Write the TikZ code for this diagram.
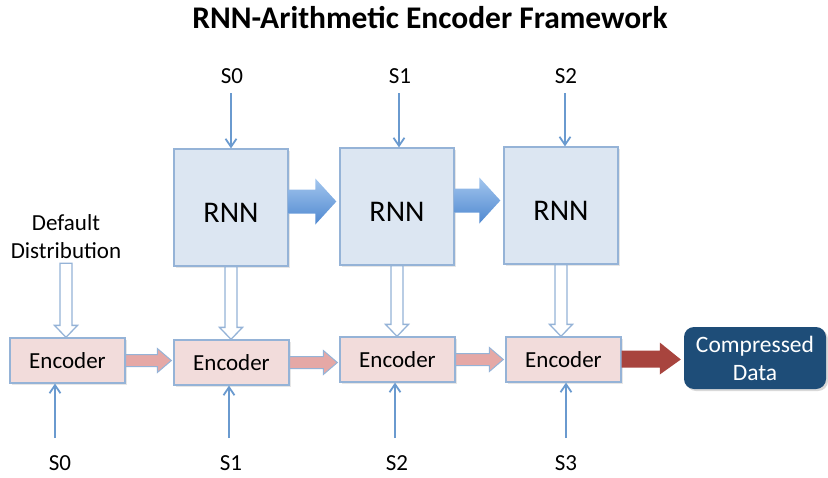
\documentclass[tikz,border=0pt]{standalone}
\usepackage{fontspec}
\setmainfont{Carlito}
\usetikzlibrary{arrows.meta,calc,shadows}
\definecolor{rnnfill}{HTML}{DCE6F2}
\definecolor{boxline}{HTML}{95B3D7}
\definecolor{encfill}{HTML}{F2DCDB}
\definecolor{thinblue}{HTML}{6A9ACF}
\definecolor{pinkarrow}{HTML}{E5A8A6}
\definecolor{redarrow}{HTML}{A8443E}
\definecolor{navy}{HTML}{1E4D78}
\definecolor{fatlight}{HTML}{A3C6EE}
\definecolor{fatdark}{HTML}{4F88D0}
\begin{document}
\begin{tikzpicture}[x=1pt,y=-1pt,
  rnnbox/.style={draw=boxline,line width=1.3pt,fill=rnnfill,minimum width=114pt,minimum height=117pt,inner sep=0pt,font=\fontsize{30}{32}\selectfont,
     drop shadow={shadow xshift=1.5pt,shadow yshift=-1.5pt,opacity=0.2}},
  encbox/.style={draw=boxline,line width=1.3pt,fill=encfill,minimum width=115pt,minimum height=45pt,inner sep=0pt,font=\fontsize{23}{25}\selectfont,
     drop shadow={shadow xshift=1.5pt,shadow yshift=-1.5pt,opacity=0.2}},
  outbox/.style={fill=navy,rounded corners=10pt,minimum width=142pt,minimum height=62pt,inner sep=0pt,text=white,align=center,font=\fontsize{23.5}{28}\selectfont,
     drop shadow={shadow xshift=2pt,shadow yshift=-2pt,opacity=0.3}},
  lbl/.style={font=\fontsize{23}{25}\selectfont,inner sep=0pt},
  thin/.style={draw=thinblue,line width=1.8pt,-{Straight Barb[length=8pt,width=11pt,line width=1.8pt]}},
  hollow/.style={draw=boxline,line width=1.3pt,fill=white},
  fatblue/.style={top color=fatlight,bottom color=fatdark,draw=none},
  pinkfat/.style={fill=pinkarrow,draw=boxline,line width=1pt},
  redfat/.style={fill=redarrow,draw=none}]
\useasboundingbox (0,0) rectangle (828,477);

% title
\node[font=\bfseries\fontsize{31.5}{33}\selectfont,inner sep=0pt] (title) at (430,18) {RNN-Arithmetic Encoder Framework};

% RNN boxes
\node[rnnbox] (r1) at (231,207.5) {\raisebox{-15pt}[0pt][0pt]{RNN}};
\node[rnnbox] (r2) at (397,206.5) {\raisebox{-15pt}[0pt][0pt]{RNN}};
\node[rnnbox] (r3) at (561,205.5) {\raisebox{-15pt}[0pt][0pt]{RNN}};

% encoders
\node[encbox] (e1) at (67.5,360.5) {Encoder};
\node[encbox] (e2) at (231.5,362.5) {Encoder};
\node[encbox] (e3) at (397.5,359.5) {Encoder};
\node[encbox] (e4) at (563.5,359.5) {Encoder};

% output
\node[outbox] (cd) at (755,358) {Compressed\\Data};

% labels
\node[lbl] (t0) at (232,76) {S0};
\node[lbl] (t1) at (400,76) {S1};
\node[lbl] (t2) at (566,76) {S2};
\node[lbl] (b0) at (60,463) {S0};
\node[lbl] (b1) at (231,463) {S1};
\node[lbl] (b2) at (397,463) {S2};
\node[lbl] (b3) at (566,463) {S3};
\node[lbl,align=center,font=\fontsize{23}{28}\selectfont] (dd) at (66,237) {Default\\Distribution};

% thin top arrows
\draw[thin] ([xshift=-1pt,yshift=-17pt]t0.center) -- ([xshift=-1pt]t0.center |- r1.north);
\draw[thin] ([xshift=-1pt,yshift=-17pt]t1.center) -- ([xshift=-1pt]t1.center |- r2.north);
\draw[thin] ([xshift=-1pt,yshift=-17pt]t2.center) -- ([xshift=-1pt]t2.center |- r3.north);

% thin bottom arrows
\draw[thin] ([xshift=-5pt,yshift=25pt]b0.center) -- ([xshift=-5pt]b0.center |- e1.south);
\draw[thin] ([xshift=-2pt,yshift=25pt]b1.center) -- ([xshift=-2pt]b1.center |- e2.south);
\draw[thin] ([xshift=-2pt,yshift=25pt]b2.center) -- ([xshift=-2pt]b2.center |- e3.south);
\draw[thin] ([yshift=25pt]b3.center) -- (b3.center |- e4.south);

% fat blue arrows between RNNs (canvas y points up)
\foreach \a/\b in {r1/r2,r2/r3}{
  \path[fatblue] let \p1=(\a.east), \p2=(\b.west) in
    (\x1,\y1+18) -- (\x2-24,\y1+18) -- (\x2-24,\y1+29) -- (\x2-3,\y1+6) -- (\x2-24,\y1-17) -- (\x2-24,\y1-6) -- (\x1,\y1-6) -- cycle;
}

% hollow arrows down
\path[hollow] let \p1=([yshift=-4pt]dd.south), \p2=(e1.north) in
  (\x1-6,\y1) -- (\x1+6,\y1) -- (\x1+6,\y2+12) -- (\x1+11.5,\y2+12) -- (\x1,\y2) -- (\x1-11.5,\y2+12) -- (\x1-6,\y2+12) -- cycle;
\foreach \a/\b in {r1/e2,r2/e3,r3/e4}{
  \path[hollow] let \p1=(\a.south), \p2=(\b.north) in
    (\x1-6,\y1) -- (\x1+6,\y1) -- (\x1+6,\y2+12) -- (\x1+11.5,\y2+12) -- (\x1,\y2) -- (\x1-11.5,\y2+12) -- (\x1-6,\y2+12) -- cycle;
}

% pink arrows between encoders
\foreach \a/\b in {e1/e2,e2/e3,e3/e4}{
  \path[pinkfat] let \p1=(\a.east), \p2=(\b.west) in
    (\x1,\y1+6) -- (\x2-16,\y1+6) -- (\x2-16,\y1+12) -- (\x2-2,\y1) -- (\x2-16,\y1-12) -- (\x2-16,\y1-6) -- (\x1,\y1-6) -- cycle;
}

% red arrow to output
\path[redfat] let \p1=(e4.east), \p2=(cd.west) in
  (\x1,\y1+9) -- (\x2-24,\y1+9) -- (\x2-24,\y1+17) -- (\x2-3,\y1) -- (\x2-24,\y1-15) -- (\x2-24,\y1-8) -- (\x1,\y1-8) -- cycle;
\end{tikzpicture}
\end{document}
